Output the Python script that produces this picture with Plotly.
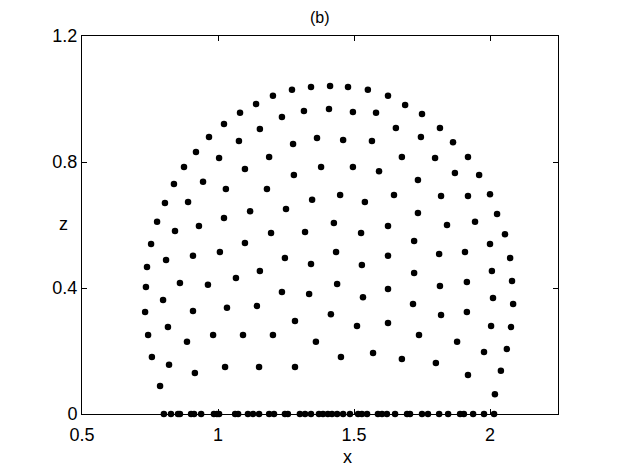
import plotly.graph_objects as go

# points, (x, z)
x_arc = [
    1.412, 1.478, 1.551, 1.625, 1.688, 1.750, 1.408, 1.496, 1.581, 1.654, 1.746,
    1.460, 1.566, 1.676, 1.735, 1.496, 1.592, 1.449, 1.647,
    1.342, 1.272, 1.202, 1.140, 1.081, 1.022, 1.316, 1.235, 1.154, 1.077,
    1.364, 1.276, 1.188, 1.099, 1.379, 1.279, 1.180, 1.029,
    0.967, 0.919, 0.875, 0.838, 1.004, 0.945,
    1.816, 1.864, 1.798, 1.919, 1.871, 1.960,
    0.805, 0.890, 0.776, 0.842, 0.930, 1.022, 0.754, 0.809, 0.908, 1.007,
    0.739, 0.735, 0.860, 0.963, 0.798, 0.732, 0.908,
    1.346, 1.250, 1.118, 1.195, 1.320, 1.099, 1.246, 1.342, 1.154, 1.066,
    1.235, 1.335, 1.143, 1.033,
    1.540, 1.735, 1.426, 1.526, 1.625, 1.721, 1.434, 1.529, 1.625, 1.721,
    1.438, 1.533, 1.625, 1.717, 1.415,
    1.820, 1.919, 2.000, 2.026, 1.842, 1.945, 2.055, 2.000, 1.813, 1.908,
    2.074, 2.007, 1.816, 1.915, 2.081, 2.011, 2.085, 1.915, 1.820,
    0.743, 0.816, 0.886, 0.982, 0.757, 0.820, 0.915, 1.026, 0.787,
    1.283, 1.092, 1.202, 1.360, 1.151, 1.283,
    1.511, 1.625, 1.739, 1.452, 1.570, 1.676,
    2.004, 2.077, 1.879, 1.978, 2.062, 1.801, 1.919, 2.040, 2.018,
]
z_arc = [
    1.041, 1.038, 1.029, 1.010, 0.981, 0.952, 0.968, 0.959, 0.956, 0.908, 0.879,
    0.870, 0.867, 0.816, 0.743, 0.784, 0.771, 0.695, 0.695,
    1.038, 1.029, 1.010, 0.984, 0.956, 0.921, 0.962, 0.943, 0.905, 0.867,
    0.876, 0.857, 0.816, 0.778, 0.784, 0.759, 0.714, 0.714,
    0.879, 0.832, 0.784, 0.730, 0.813, 0.737,
    0.908, 0.863, 0.813, 0.816, 0.765, 0.759,
    0.670, 0.673, 0.610, 0.581, 0.597, 0.622, 0.540, 0.489, 0.502, 0.514,
    0.467, 0.403, 0.416, 0.410, 0.362, 0.324, 0.327,
    0.680, 0.651, 0.644, 0.575, 0.578, 0.543, 0.495, 0.476, 0.454, 0.432,
    0.387, 0.381, 0.343, 0.337,
    0.673, 0.638, 0.606, 0.575, 0.597, 0.549, 0.514, 0.473, 0.502, 0.448,
    0.413, 0.371, 0.397, 0.349, 0.317,
    0.692, 0.692, 0.698, 0.635, 0.600, 0.610, 0.571, 0.540, 0.508, 0.514,
    0.495, 0.454, 0.406, 0.419, 0.422, 0.368, 0.349, 0.324, 0.314,
    0.251, 0.276, 0.229, 0.251, 0.181, 0.156, 0.130, 0.149, 0.089,
    0.295, 0.251, 0.251, 0.229, 0.149, 0.149,
    0.279, 0.289, 0.251, 0.181, 0.194, 0.175,
    0.279, 0.276, 0.229, 0.197, 0.206, 0.162, 0.124, 0.137, 0.063,
]

# points lying on z = 0
x_base = [
    0.801, 0.827, 0.853, 0.860, 0.901, 0.912, 0.938, 0.985, 0.996, 1.004,
    1.063, 1.074, 1.110, 1.129, 1.151, 1.188, 1.206, 1.246, 1.257, 1.301,
    1.320, 1.342, 1.371, 1.386, 1.404, 1.419, 1.438, 1.460, 1.485, 1.515,
    1.529, 1.548, 1.588, 1.603, 1.621, 1.651, 1.695, 1.706, 1.750, 1.772,
    1.813, 1.846, 1.890, 1.904, 1.938, 1.978, 2.015,
]
z_base = [0.0] * len(x_base)

x_ticks = [0.5, 1, 1.5, 2]
x_labels = ["0.5", "1", "1.5", "2"]
z_ticks = [0, 0.4, 0.8, 1.2]
z_labels = ["0", "0.4", "0.8", "1.2"]

fig = go.Figure()
fig.add_trace(go.Scatter(
    x=x_arc + x_base,
    y=z_arc + z_base,
    mode="markers",
    marker=dict(color="black", size=6.5),
    cliponaxis=False,
    showlegend=False,
))

axis_style = dict(
    showline=True, linecolor="black", linewidth=1, mirror="ticks",
    ticks="inside", ticklen=5, tickcolor="black",
    showgrid=False, zeroline=False,
    tickfont=dict(family="Liberation Sans, Arial", size=18, color="black"),
)

# page body has an 8px margin, so the figure is a bit smaller than the window
fig.update_layout(
    width=614, height=460,
    margin=dict(l=74, r=64, t=28, b=54),
    paper_bgcolor="white", plot_bgcolor="white",
    xaxis=dict(range=[0.5, 2.25], tickvals=x_ticks, ticktext=x_labels,
               ticklabelstandoff=4, **axis_style),
    yaxis=dict(range=[0, 1.2], tickvals=z_ticks, ticktext=z_labels, **axis_style),
    font=dict(family="Liberation Sans, Arial", color="black"),
    annotations=[
        dict(text="(b)", x=0.5, y=1.048, xref="paper", yref="paper",
             showarrow=False, font=dict(size=16), yanchor="middle"),
        dict(text="x", x=0.557, y=-0.113, xref="paper", yref="paper",
             showarrow=False, font=dict(size=18), yanchor="middle"),
        dict(text="z", x=-0.053, y=0.503, xref="paper", yref="paper",
             showarrow=False, font=dict(size=18), yanchor="middle"),
    ],
)

fig.write_html("out.html")
